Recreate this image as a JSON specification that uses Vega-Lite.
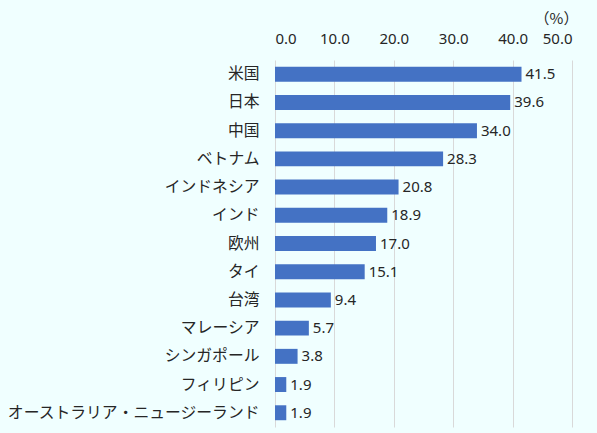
{
  "$schema": "https://vega.github.io/schema/vega-lite/v6.json",
  "width": 297,
  "height": 367,
  "autosize": {"type": "none"},
  "padding": {"left": 275, "top": 60, "right": 25, "bottom": 6},
  "background": "#F0FFFF",
  "config": {
    "view": {"stroke": null},
    "font": "Noto Sans CJK JP"
  },
  "data": {
    "values": [
      {"country": "米国", "value": 41.5},
      {"country": "日本", "value": 39.6},
      {"country": "中国", "value": 34.0},
      {"country": "ベトナム", "value": 28.3},
      {"country": "インドネシア", "value": 20.8},
      {"country": "インド", "value": 18.9},
      {"country": "欧州", "value": 17.0},
      {"country": "タイ", "value": 15.1},
      {"country": "台湾", "value": 9.4},
      {"country": "マレーシア", "value": 5.7},
      {"country": "シンガポール", "value": 3.8},
      {"country": "フィリピン", "value": 1.9},
      {"country": "オーストラリア・ニュージーランド", "value": 1.9}
    ]
  },
  "encoding": {
    "y": {
      "field": "country",
      "type": "nominal",
      "sort": null,
      "scale": {"paddingInner": 0.47, "paddingOuter": 0.24},
      "axis": {
        "title": null,
        "domain": false,
        "ticks": false,
        "labelPadding": 16,
        "labelFontSize": 15.8,
        "labelLimit": 300,
        "labelColor": "#262626",
        "labelFont": "Noto Sans CJK JP"
      }
    },
    "x": {
      "field": "value",
      "type": "quantitative",
      "scale": {"domain": [0, 50], "nice": false},
      "axis": {
        "orient": "top",
        "values": [0, 10, 20, 30, 40, 50],
        "format": ".1f",
        "title": "（%）",
        "titleFontWeight": "normal",
        "titleFontSize": 15,
        "titleColor": "#262626",
        "titleFont": "Noto Sans CJK JP",
        "titleAlign": "center",
        "titleBaseline": "middle",
        "titleX": 281,
        "titleY": -42,
        "domain": false,
        "ticks": false,
        "labelPadding": 14,
        "labelFontSize": 15,
        "labelColor": "#262626",
        "labelFont": "Noto Sans",
        "gridColor": "#D9D9D9",
        "gridWidth": 1
      }
    }
  },
  "layer": [
    {"mark": {"type": "bar", "color": "#4472C4"}},
    {
      "mark": {"type": "text", "align": "left", "baseline": "middle", "dx": 4, "fontSize": 15, "color": "#262626", "font": "Noto Sans"},
      "encoding": {"text": {"field": "value", "type": "quantitative", "format": ".1f"}}
    }
  ]
}
